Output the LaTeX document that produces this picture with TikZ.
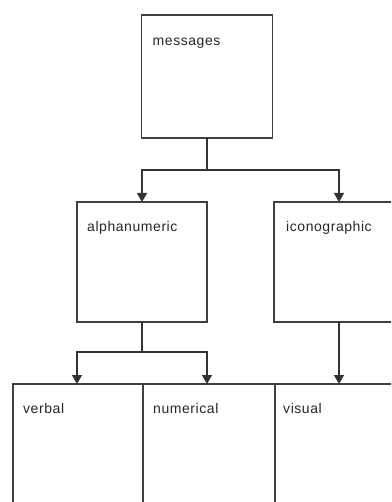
\documentclass[tikz,border=0pt]{standalone}
\usepackage{fontspec}
\setmainfont{Liberation Sans}
\newfontfamily\lblfont[LetterSpace=4]{Liberation Sans}
\usetikzlibrary{arrows.meta,calc}
\begin{document}
\begin{tikzpicture}[x=1pt,y=-1pt,
  box/.style={draw=black!75, line width=1.3pt, rectangle, inner sep=0pt, outer sep=0pt},
  lbl/.style={anchor=base west, inner sep=0pt, font=\lblfont\fontsize{14}{16}\selectfont, text=black!85},
  conn/.style={draw=black!80, line width=1.3pt},
  arr/.style={conn, -{Triangle[length=9pt,width=10pt]}}]
\useasboundingbox (0,0) rectangle (391,502);
\clip (0,0) rectangle (391,502);

% boxes
\node[box, minimum width=131pt, minimum height=123pt] (messages) at (207,76.5) {};
\node[box, minimum width=130pt, minimum height=120pt] (alpha) at (142,262) {};
\node[box, minimum width=130pt, minimum height=120pt] (icono) at (339,262) {};
\node[box, minimum width=130pt, minimum height=140pt] (verbal) at (78,454) {};
\node[box, minimum width=132pt, minimum height=140pt] (numerical) at (209,454) {};
\node[box, minimum width=130pt, minimum height=140pt] (visual) at (340,454) {};

% labels
\node[lbl] (messagesT) at ($(messages.north west)+(11,31)$) {messages};
\node[lbl] (alphaT) at ($(alpha.north west)+(10,29)$) {alphanumeric};
\node[lbl] (iconoT) at ($(icono.north west)+(12,29)$) {iconographic};
\node[lbl] (verbalT) at ($(verbal.north west)+(10,29)$) {verbal};
\node[lbl] (numericalT) at ($(numerical.north west)+(10,29)$) {numerical};
\node[lbl] (visualT) at ($(visual.north west)+(8,29)$) {visual};

% connectors
\draw[conn] (messages.south) -- ++(0,32) coordinate (split1);
\draw[arr] (split1) -| (alpha.north);
\draw[arr] (split1) -| (icono.north);
\draw[conn] (alpha.south) -- ++(0,30) coordinate (split2);
\draw[arr] (split2) -| (alpha.south west |- verbal.north);
\draw[arr] (split2) -| (alpha.south east |- numerical.north);
\draw[arr] (icono.south) -- (icono.south |- visual.north);
\end{tikzpicture}
\end{document}
